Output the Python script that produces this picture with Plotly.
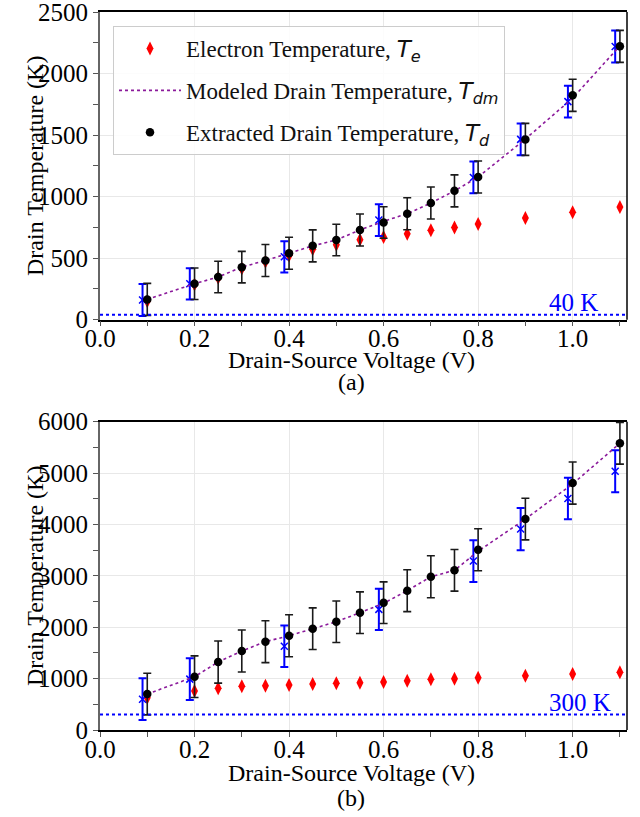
import plotly.graph_objects as go
from plotly.subplots import make_subplots

# Drain-source bias points (V)
vds = [0.1, 0.2, 0.25, 0.3, 0.35, 0.4, 0.45, 0.5, 0.55, 0.6, 0.65, 0.7, 0.75, 0.8, 0.9, 1.0, 1.1]
# Bias points of the independent (blue) extraction, shifted slightly left
vds_meas = [0.09, 0.19, 0.39, 0.59, 0.79, 0.89, 0.99, 1.09]

# (a) 40 K ambient
te_a = [150, 285, 340, 415, 470, 522, 572, 609, 650, 672, 698, 727, 750, 777, 826, 874, 915]
td_a = [165, 292, 347, 427, 481, 540, 600, 648, 729, 790, 861, 948, 1047, 1159, 1465, 1823, 2221]
td_err_a = [130, 128, 128, 128, 130, 130, 130, 128, 130, 128, 130, 130, 130, 130, 130, 130, 130]
tdm_a = [165, 292, 347, 427, 481, 540, 600, 648, 729, 800, 861, 948, 1047, 1159, 1468, 1800, 2225]
meas_a = [160, 292, 511, 810, 1156, 1465, 1772, 2220]
meas_err_a = [130, 127, 127, 129, 129, 129, 129, 130]

# (b) 300 K ambient
te_b = [629, 759, 811, 850, 862, 876, 895, 908, 921, 934, 960, 986, 999, 1018, 1057, 1090, 1122]
td_b = [700, 1037, 1323, 1537, 1719, 1835, 1971, 2107, 2283, 2477, 2711, 2983, 3107, 3508, 4105, 4805, 5580]
td_err_b = [405, 405, 410, 408, 408, 408, 405, 405, 405, 405, 408, 408, 405, 410, 405, 410, 405]
tdm_b = [700, 1037, 1323, 1537, 1719, 1835, 1971, 2107, 2283, 2465, 2711, 2983, 3107, 3480, 4105, 4790, 5580]
meas_b = [600, 990, 1630, 2348, 3288, 3910, 4505, 5035]
meas_err_b = [405, 405, 402, 401, 406, 410, 405, 410]

ambient = [40, 300]
ambient_labels = ["40 K", "300 K"]
panel_labels = ["(a)", "(b)"]
y_ranges = [[0, 2500], [0, 6000]]
y_major = [500, 1000]
y_minor = [250, 500]

SERIF = "Liberation Serif"
MATH = "DejaVu Sans"

H = 817
T_M, B_M = 12, 87
PLOT_H = H - T_M - B_M


def py(page_y):
    """Page pixel row -> paper fraction."""
    return (H - B_M - page_y) / PLOT_H


def px(page_x):
    """Page pixel column -> paper fraction."""
    return (page_x - 100) / 527


def sym(base, sub):
    return (f"<span style='font-family:{MATH}'><i>{base}</i>"
            f"<sub><i>{sub}</i></sub></span>")


fig = make_subplots(rows=2, cols=1, vertical_spacing=0.14)
fig.update_yaxes(domain=[py(319.7), 1.0], row=1, col=1)
fig.update_yaxes(domain=[0.0, py(421.7)], row=2, col=1)

panels = [
    (te_a, td_a, td_err_a, tdm_a, meas_a, meas_err_a),
    (te_b, td_b, td_err_b, tdm_b, meas_b, meas_err_b),
]

for i, (te, td, td_err, tdm, meas, meas_err) in enumerate(panels):
    row = i + 1
    show = i == 0
    fig.add_trace(go.Scatter(
        x=vds, y=te, mode="markers",
        marker=dict(symbol="diamond-tall", size=10, color="red"),
        name="Electron Temperature, " + sym("T", "e"),
        legendgroup="te", showlegend=show), row=row, col=1)
    fig.add_trace(go.Scatter(
        x=vds_meas, y=meas, mode="markers",
        marker=dict(symbol="x-thin", size=7, color="blue",
                    line=dict(color="blue", width=1.5)),
        error_y=dict(type="data", array=meas_err, color="blue",
                     thickness=2, width=4),
        showlegend=False), row=row, col=1)
    fig.add_trace(go.Scatter(
        x=vds, y=tdm, mode="lines",
        line=dict(color="#8b1a9b", width=1.6, dash="dot"),
        name="Modeled Drain Temperature, " + sym("T", "dm"),
        legendgroup="tdm", showlegend=show), row=row, col=1)
    fig.add_trace(go.Scatter(
        x=vds, y=td, mode="markers",
        marker=dict(symbol="circle", size=8.5, color="black"),
        error_y=dict(type="data", array=td_err, color="#1a1a1a",
                     thickness=1.6, width=4),
        name="Extracted Drain Temperature, " + sym("T", "d"),
        legendgroup="td", showlegend=show), row=row, col=1)

    xr = "x" if i == 0 else "x2"
    yr = "y" if i == 0 else "y2"
    # ambient temperature reference line
    fig.add_shape(type="line", xref=f"{xr} domain", yref=yr,
                  x0=0, x1=1, y0=ambient[i], y1=ambient[i],
                  line=dict(color="blue", width=2, dash="dot"))
    fig.add_annotation(xref=xr, yref=yr, x=0.945, y=ambient[i],
                       text=ambient_labels[i], showarrow=False,
                       xanchor="left", yanchor="bottom", yshift=-3,
                       font=dict(family=SERIF, size=25, color="blue"))
    # right spine
    fig.add_shape(type="line", xref=f"{xr} domain", yref=f"{yr} domain",
                  x0=1, x1=1, y0=0, y1=1,
                  line=dict(color="black", width=1.5))

    fig.update_xaxes(
        range=[0, 1.115], dtick=0.2, tick0=0, tickformat=".1f",
        ticks="outside", ticklen=5, tickcolor="#555", tickwidth=1.2,
        minor=dict(dtick=0.1, tick0=0, ticks="outside", ticklen=5,
                   tickcolor="#555", tickwidth=1.2, showgrid=False),
        showgrid=True, gridcolor="#e8e8e8", gridwidth=1,
        showline=True, linecolor="black", linewidth=1.5, mirror=True,
        zeroline=False, automargin=False, ticklabelstandoff=-9,
        ticklabeloverflow="allow",
        tickfont=dict(family=SERIF, size=25, color="black"),
        row=row, col=1)
    fig.update_yaxes(
        range=y_ranges[i], dtick=y_major[i], tick0=0,
        ticks="outside", ticklen=5, tickcolor="#555", tickwidth=1.2,
        minor=dict(dtick=y_minor[i], tick0=0, ticks="outside", ticklen=5,
                   tickcolor="#555", tickwidth=1.2, showgrid=False),
        showgrid=True, gridcolor="#e8e8e8", gridwidth=1,
        showline=True, linecolor="#666", linewidth=2,
        zeroline=False, automargin=False, ticklabeloverflow="allow",
        tickfont=dict(family=SERIF, size=25, color="black"),
        row=row, col=1)

# axis titles and panel labels
title_font = dict(family=SERIF, size=24, color="black")
for yc, xt in [(166, 360), (576, 773)]:
    fig.add_annotation(xref="paper", yref="paper",
                       x=px(35), y=py(yc),
                       text="Drain Temperature (K)", textangle=-90,
                       showarrow=False, xanchor="center", yanchor="middle",
                       font=title_font)
    fig.add_annotation(xref="paper", yref="paper",
                       x=px(351), y=py(xt),
                       text="Drain-Source Voltage (V)", showarrow=False,
                       xanchor="center", yanchor="middle", font=title_font)
for yc, lab in zip([382, 798], panel_labels):
    fig.add_annotation(xref="paper", yref="paper",
                       x=px(351), y=py(yc),
                       text=lab, showarrow=False,
                       xanchor="center", yanchor="middle", font=title_font)

fig.update_layout(
    width=640, height=H,
    margin=dict(l=100, r=13, t=T_M, b=B_M, autoexpand=False),
    paper_bgcolor="white", plot_bgcolor="white",
    font=dict(family=SERIF, size=23, color="black"),
    legend=dict(x=px(113), y=py(26), xanchor="left", yanchor="top",
                traceorder="grouped", tracegroupgap=9, itemwidth=62,
                bgcolor="rgba(255,255,255,0.85)", bordercolor="#cccccc",
                borderwidth=1, font=dict(family=SERIF, size=23, color="#111")),
)

fig.write_html("out.html")
